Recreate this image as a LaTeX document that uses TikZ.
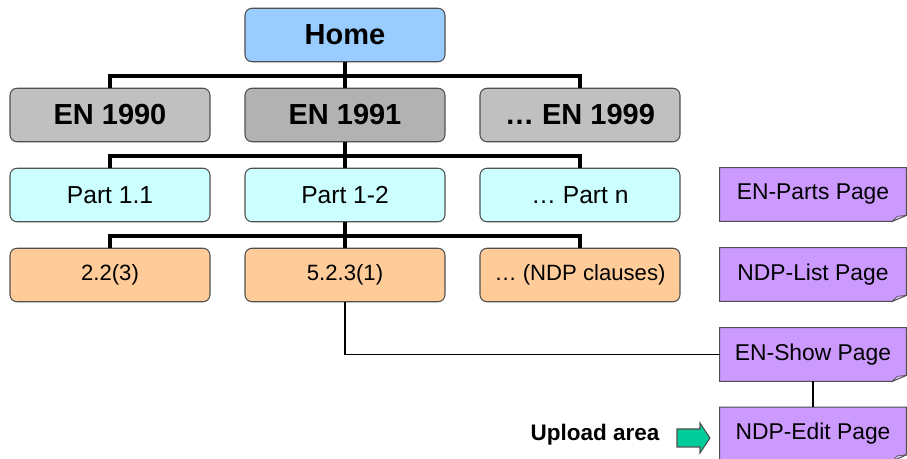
\documentclass[tikz,border=0pt]{standalone}
\usepackage{fontspec}
\setmainfont{Liberation Sans}
\usepackage{tikz}
\usetikzlibrary{shapes,arrows,positioning,calc,backgrounds}
\usepackage{xcolor}
\definecolor{homeblue}{RGB}{153,204,255}
\definecolor{ensilver}{RGB}{192,192,192}
\definecolor{endark}{RGB}{178,178,178}
\definecolor{partcyan}{RGB}{204,255,255}
\definecolor{clauseorange}{RGB}{255,204,153}
\definecolor{pagepurple}{RGB}{204,153,255}
\definecolor{foldpurple}{RGB}{225,200,255}
\definecolor{arrowgreen}{RGB}{0,204,153}
\definecolor{edgegray}{RGB}{80,80,80}

\tikzset{
    treebox/.style={rectangle,rounded corners=4pt,draw=edgegray,line width=0.6pt,
        minimum width=4cm,minimum height=1.07cm,inner sep=0pt},
    pagebox/.style={rectangle,minimum width=3.72cm,minimum height=1.06cm,inner sep=0pt,
        font=\fontsize{13}{15}\selectfont},
    tree/.style={line width=1.8pt,black},
    link/.style={line width=1pt,black}
}

\begin{document}
\begin{tikzpicture}[x=0.02cm,y=-0.02cm]
        \useasboundingbox (0,0) rectangle (907,459);

        % Top of the tree
        \node[treebox,fill=homeblue,font=\fontsize{16.5}{18}\selectfont\bfseries] (home) at (345,35) {Home};

        % Eurocodes
        \node[treebox,fill=ensilver,font=\fontsize{16.5}{18}\selectfont\bfseries] (en0) at (110,115) {EN 1990};
        \node[treebox,fill=endark,font=\fontsize{16.5}{18}\selectfont\bfseries] (en1) at (345,115) {EN 1991};
        \node[treebox,fill=ensilver,font=\fontsize{16.5}{18}\selectfont\bfseries] (en9) at (580,115) {\ldots\ EN 1999};

        % Parts
        \node[treebox,fill=partcyan,font=\fontsize{14}{16}\selectfont] (part1) at (110,195) {Part 1.1};
        \node[treebox,fill=partcyan,font=\fontsize{14}{16}\selectfont] (part2) at (345,195) {Part 1-2};
        \node[treebox,fill=partcyan,font=\fontsize{14}{16}\selectfont] (partn) at (580,195) {\ldots\ Part n};

        % NDP clauses
        \node[treebox,fill=clauseorange,font=\fontsize{12.6}{14}\selectfont] (cl1) at (110,275) {2.2(3)};
        \node[treebox,fill=clauseorange,font=\fontsize{12.6}{14}\selectfont] (cl2) at (345,275) {5.2.3(1)};
        \node[treebox,fill=clauseorange,font=\fontsize{12.6}{14}\selectfont] (cln) at (580,275) {\ldots\ (NDP clauses)};

        % Bus lines
        \coordinate (bus1) at (345,76);
        \coordinate (bus2) at (345,156);
        \coordinate (bus3) at (345,236);
        \draw[tree] (home.south) -- (en1.north);
        \draw[tree] (en0.north) |- (bus1) -| (en9.north);
        \draw[tree] (en1.south) -- (part2.north);
        \draw[tree] (part1.north) |- (bus2) -| (partn.north);
        \draw[tree] (part2.south) -- (cl2.north);
        \draw[tree] (cl1.north) |- (bus3) -| (cln.north);

        % Pages
        \node[pagebox] (parts) at (813,194.5) {EN-Parts Page};
        \node[pagebox] (list) at (813,274.5) {NDP-List Page};
        \node[pagebox] (show) at (813,354.5) {EN-Show Page};
        \node[pagebox] (edit) at (813,434) {NDP-Edit Page};
        \begin{pgfonlayer}{background}
        \foreach \p in {parts,list,show,edit}{
            \filldraw[fill=pagepurple,draw=edgegray,line width=0.6pt] (\p.north west) -- (\p.north east)
                -- ($(\p.south east)+(0,-6)$) -- ($(\p.south east)+(-14,0)$) -- (\p.south west) -- cycle;
            \filldraw[fill=foldpurple,draw=edgegray,line width=0.4pt] ($(\p.south east)+(0,-6)$)
                -- ($(\p.south east)+(-14,0)$) -- ($(\p.south east)+(-9,-5)$) -- cycle;
        }
        \end{pgfonlayer}

        \draw[link] (cl2.south) |- (show.west);
        \draw[link] (show.south) -- (edit.north);

        % Upload area
        \node[font=\fontsize{12.8}{14}\selectfont\bfseries] (upload) at (595,435) {Upload area};
        \coordinate (uparrow) at (693.5,438);
        \filldraw[fill=arrowgreen,draw=edgegray,line width=0.6pt,line join=miter]
            ($(uparrow)+(-16.5,-9)$) -- ($(uparrow)+(6.5,-9)$) -- ($(uparrow)+(6.5,-15)$)
            -- ($(uparrow)+(16.5,0)$) -- ($(uparrow)+(6.5,15)$) -- ($(uparrow)+(6.5,9)$)
            -- ($(uparrow)+(-16.5,9)$) -- cycle;
    \end{tikzpicture}
\end{document}
